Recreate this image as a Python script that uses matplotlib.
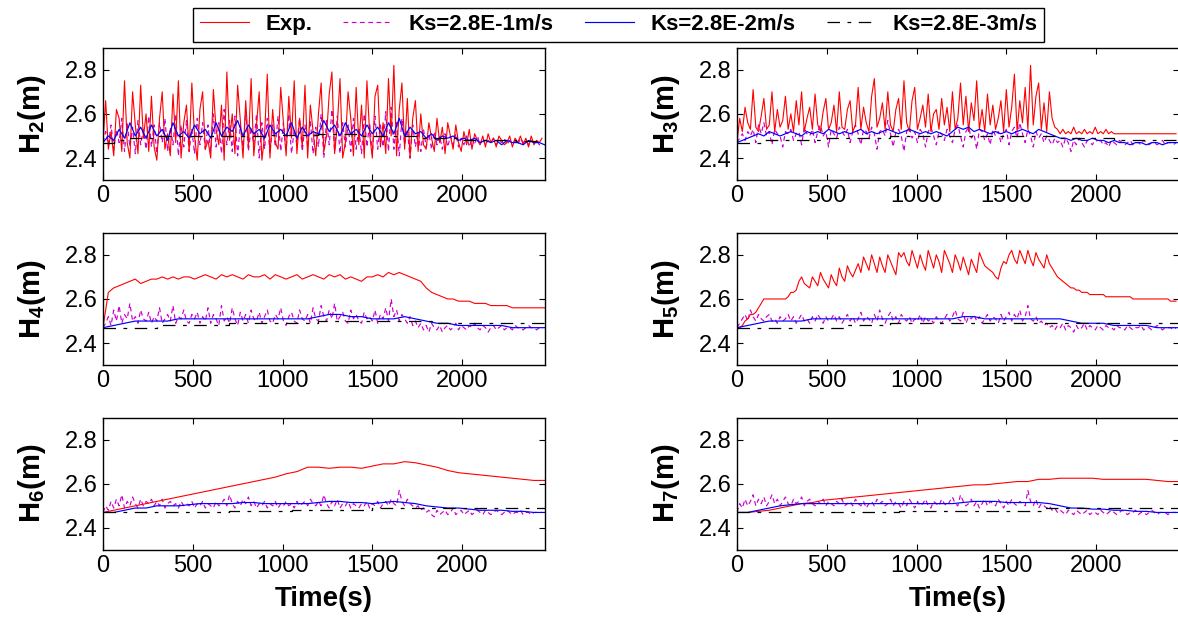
import numpy as np
import matplotlib
matplotlib.use("Agg")
import matplotlib.pyplot as plt

plt.rcParams["font.family"] = ["Liberation Sans", "DejaVu Sans"]
plt.rcParams["mathtext.fontset"] = "custom"
plt.rcParams["mathtext.rm"] = "Liberation Sans"
plt.rcParams["mathtext.bf"] = "Liberation Sans:bold"

# time grids (s)
t15 = np.arange(0, 2460, 15)
t30 = np.arange(0, 2461, 30)
t60 = np.arange(0, 2461, 60)

legend_labels = ["Exp.", "Ks=2.8E-1m/s", "Ks=2.8E-2m/s", "Ks=2.8E-3m/s"]

# ---------------- H2 ----------------
h2_exp = [
    2.47, 2.66, 2.44, 2.52, 2.41, 2.62, 2.58, 2.43, 2.75, 2.47, 2.40, 2.70, 2.55, 2.42, 2.73, 2.49, 2.60, 2.43, 2.68, 2.45,
    2.39, 2.58, 2.70, 2.44, 2.51, 2.41, 2.69, 2.47, 2.75, 2.40, 2.56, 2.64, 2.43, 2.74, 2.50, 2.39, 2.62, 2.70, 2.44, 2.48,
    2.40, 2.71, 2.53, 2.46, 2.64, 2.39, 2.79, 2.48, 2.60, 2.42, 2.73, 2.57, 2.40, 2.66, 2.45, 2.76, 2.41, 2.55, 2.70, 2.39,
    2.50, 2.78, 2.40, 2.62, 2.47, 2.44, 2.72, 2.56, 2.41, 2.68, 2.49, 2.75, 2.42, 2.58, 2.45, 2.73, 2.40, 2.64, 2.52, 2.41,
    2.60, 2.74, 2.43, 2.50, 2.69, 2.79, 2.42, 2.55, 2.76, 2.40, 2.47, 2.70, 2.58, 2.41, 2.72, 2.46, 2.64, 2.40, 2.75, 2.51,
    2.40, 2.68, 2.73, 2.45, 2.56, 2.42, 2.76, 2.50, 2.82, 2.41, 2.62, 2.74, 2.44, 2.67, 2.40, 2.58, 2.66, 2.43, 2.60, 2.46,
    2.44, 2.56, 2.49, 2.43, 2.58, 2.47, 2.54, 2.42, 2.56, 2.50, 2.44, 2.55, 2.47, 2.43, 2.52, 2.46, 2.53, 2.44, 2.51, 2.48,
    2.46, 2.50, 2.45, 2.51, 2.47, 2.49, 2.45, 2.50, 2.48, 2.46, 2.47, 2.50, 2.45, 2.49, 2.47, 2.50, 2.46, 2.49, 2.45, 2.50,
    2.46, 2.48, 2.47, 2.49,
]
h2_ks1 = [
    2.47, 2.52, 2.46, 2.55, 2.44, 2.53, 2.47, 2.58, 2.43, 2.56, 2.45, 2.54, 2.42, 2.57, 2.46, 2.53, 2.44, 2.59, 2.45, 2.55,
    2.42, 2.56, 2.47, 2.58, 2.43, 2.54, 2.46, 2.60, 2.41, 2.55, 2.45, 2.57, 2.43, 2.53, 2.42, 2.58, 2.46, 2.56, 2.44, 2.55,
    2.43, 2.60, 2.45, 2.56, 2.42, 2.62, 2.46, 2.57, 2.43, 2.59, 2.41, 2.55, 2.45, 2.61, 2.43, 2.54, 2.46, 2.60, 2.40, 2.56,
    2.44, 2.58, 2.42, 2.55, 2.45, 2.59, 2.43, 2.56, 2.44, 2.60, 2.42, 2.53, 2.46, 2.58, 2.43, 2.55, 2.45, 2.57, 2.42, 2.54,
    2.45, 2.60, 2.40, 2.57, 2.46, 2.62, 2.43, 2.59, 2.42, 2.56, 2.45, 2.55, 2.43, 2.58, 2.44, 2.54, 2.42, 2.60, 2.45, 2.56,
    2.42, 2.59, 2.44, 2.55, 2.45, 2.61, 2.43, 2.63, 2.44, 2.57, 2.41, 2.58, 2.46, 2.53, 2.40, 2.55, 2.45, 2.52, 2.43, 2.53,
    2.45, 2.51, 2.44, 2.52, 2.46, 2.50, 2.44, 2.51, 2.45, 2.50, 2.46, 2.51, 2.45, 2.49, 2.46, 2.50, 2.45, 2.49, 2.46, 2.50,
    2.46, 2.49, 2.46, 2.48, 2.47, 2.49, 2.46, 2.48, 2.47, 2.49, 2.46, 2.48, 2.47, 2.48, 2.46, 2.49, 2.47, 2.48, 2.46, 2.48,
    2.47, 2.48, 2.46, 2.47,
]
h2_ks2 = [
    2.47, 2.50, 2.48, 2.53, 2.49, 2.56, 2.50, 2.54, 2.49, 2.55,
    2.50, 2.53, 2.48, 2.56, 2.50, 2.52, 2.49, 2.55, 2.51, 2.53,
    2.49, 2.56, 2.50, 2.54, 2.52, 2.57, 2.50, 2.55, 2.51, 2.53,
    2.49, 2.55, 2.51, 2.53, 2.50, 2.56, 2.49, 2.54, 2.50, 2.52,
    2.51, 2.57, 2.52, 2.55, 2.50, 2.56, 2.51, 2.53, 2.50, 2.55,
    2.51, 2.54, 2.50, 2.56, 2.51, 2.58, 2.50, 2.54, 2.51, 2.52,
    2.49, 2.51, 2.48, 2.50, 2.49, 2.50, 2.48, 2.49, 2.48, 2.49,
    2.47, 2.48, 2.47, 2.48, 2.46, 2.48, 2.47, 2.47, 2.46, 2.48, 2.47, 2.47, 2.46,
]
h2_ks3_t = [0, 60, 150, 300, 600, 900, 1200, 1450, 1750, 2000, 2300, 2460]
h2_ks3 = [2.47, 2.48, 2.49, 2.50, 2.50, 2.505, 2.51, 2.50, 2.49, 2.48, 2.475, 2.475]

# ---------------- H3 ----------------
h3_exp = [
    2.47, 2.58, 2.52, 2.63, 2.56, 2.53, 2.71, 2.54, 2.52, 2.59, 2.67, 2.53, 2.55, 2.70, 2.52, 2.62, 2.54, 2.57, 2.68, 2.53,
    2.60, 2.52, 2.66, 2.55, 2.70, 2.52, 2.58, 2.63, 2.53, 2.69, 2.55, 2.52, 2.61, 2.67, 2.53, 2.56, 2.64, 2.52, 2.70, 2.54,
    2.53, 2.62, 2.66, 2.52, 2.55, 2.72, 2.53, 2.63, 2.56, 2.52, 2.68, 2.76, 2.54, 2.58, 2.65, 2.53, 2.70, 2.55, 2.52, 2.62,
    2.67, 2.53, 2.75, 2.56, 2.52, 2.66, 2.72, 2.53, 2.58, 2.64, 2.54, 2.69, 2.52, 2.60, 2.62, 2.53, 2.67, 2.55, 2.63, 2.52,
    2.70, 2.53, 2.58, 2.74, 2.55, 2.68, 2.52, 2.65, 2.57, 2.75, 2.53, 2.62, 2.52, 2.69, 2.55, 2.64, 2.53, 2.58, 2.66, 2.52,
    2.71, 2.54, 2.63, 2.78, 2.52, 2.66, 2.56, 2.72, 2.53, 2.82, 2.55, 2.68, 2.74, 2.53, 2.65, 2.52, 2.70, 2.58, 2.54, 2.53,
    2.51, 2.53, 2.51, 2.52, 2.51, 2.54, 2.51, 2.52, 2.51, 2.53, 2.51, 2.52, 2.51, 2.54, 2.51, 2.52, 2.51, 2.53, 2.51, 2.52,
    2.51, 2.51, 2.51, 2.51, 2.51, 2.51, 2.51, 2.51, 2.51, 2.51, 2.51, 2.51, 2.51, 2.51, 2.51, 2.51, 2.51, 2.51, 2.51, 2.51,
    2.51, 2.51, 2.51, 2.51,
]
h3_ks1 = [
    2.47, 2.49, 2.51, 2.48, 2.52, 2.50, 2.53, 2.47, 2.55, 2.51, 2.56, 2.50, 2.52, 2.46, 2.53, 2.51, 2.50, 2.45, 2.52, 2.51,
    2.53, 2.48, 2.51, 2.52, 2.46, 2.54, 2.51, 2.50, 2.53, 2.47, 2.52, 2.55, 2.50, 2.52, 2.45, 2.53, 2.51, 2.49, 2.54, 2.52,
    2.50, 2.53, 2.47, 2.52, 2.55, 2.51, 2.46, 2.53, 2.52, 2.49, 2.54, 2.51, 2.44, 2.52, 2.53, 2.50, 2.57, 2.51, 2.45, 2.52,
    2.53, 2.50, 2.43, 2.52, 2.54, 2.49, 2.52, 2.47, 2.53, 2.51, 2.45, 2.52, 2.54, 2.50, 2.46, 2.52, 2.51, 2.48, 2.53, 2.50,
    2.47, 2.53, 2.55, 2.50, 2.45, 2.52, 2.54, 2.49, 2.51, 2.44, 2.53, 2.52, 2.48, 2.51, 2.46, 2.53, 2.50, 2.52, 2.47, 2.51,
    2.53, 2.46, 2.52, 2.54, 2.49, 2.56, 2.51, 2.47, 2.53, 2.50, 2.45, 2.52, 2.49, 2.51, 2.47, 2.50, 2.48, 2.46, 2.49, 2.47,
    2.48, 2.45, 2.49, 2.47, 2.43, 2.48, 2.46, 2.49, 2.47, 2.45, 2.48, 2.47, 2.46, 2.49, 2.47, 2.48, 2.46, 2.47, 2.45, 2.48,
    2.47, 2.46, 2.48, 2.47, 2.46, 2.47, 2.48, 2.46, 2.47, 2.47, 2.46, 2.48, 2.47, 2.46, 2.47, 2.47, 2.46, 2.47, 2.48, 2.46,
    2.47, 2.47, 2.46, 2.47,
]
h3_ks2 = [
    2.47, 2.48, 2.49, 2.50, 2.51, 2.50, 2.52, 2.51, 2.50, 2.51,
    2.52, 2.51, 2.50, 2.52, 2.51, 2.52, 2.51, 2.53, 2.52, 2.51,
    2.52, 2.51, 2.52, 2.53, 2.51, 2.52, 2.51, 2.52, 2.53, 2.52,
    2.51, 2.52, 2.53, 2.52, 2.51, 2.52, 2.51, 2.52, 2.51, 2.50,
    2.52, 2.54, 2.53, 2.54, 2.52, 2.53, 2.52, 2.51, 2.52, 2.51,
    2.52, 2.51, 2.52, 2.53, 2.52, 2.51, 2.53, 2.52, 2.51, 2.50,
    2.49, 2.49, 2.48, 2.49, 2.48, 2.48, 2.49, 2.48, 2.48, 2.47,
    2.48, 2.47, 2.47, 2.46, 2.47, 2.47, 2.46, 2.47, 2.47, 2.46, 2.47, 2.47, 2.47,
]
h3_ks3_t = [0, 150, 500, 850, 1800, 2100, 2460]
h3_ks3 = [2.47, 2.48, 2.49, 2.50, 2.49, 2.48, 2.48]

# ---------------- H4 ----------------
h4_exp = [
    2.47, 2.63, 2.65, 2.66, 2.67, 2.68, 2.69, 2.67, 2.68, 2.69,
    2.69, 2.70, 2.69, 2.70, 2.69, 2.70, 2.70, 2.69, 2.70, 2.71,
    2.70, 2.69, 2.71, 2.70, 2.71, 2.70, 2.69, 2.71, 2.70, 2.70,
    2.71, 2.69, 2.71, 2.70, 2.69, 2.70, 2.71, 2.69, 2.70, 2.71,
    2.70, 2.69, 2.71, 2.70, 2.71, 2.69, 2.70, 2.69, 2.68, 2.70,
    2.70, 2.71, 2.70, 2.72, 2.71, 2.72, 2.71, 2.70, 2.69, 2.68,
    2.65, 2.63, 2.62, 2.61, 2.60, 2.60, 2.59, 2.59, 2.59, 2.58,
    2.58, 2.58, 2.57, 2.57, 2.57, 2.57, 2.56, 2.56, 2.56, 2.56, 2.56, 2.56, 2.56,
]
h4_ks1 = [
    2.47, 2.49, 2.52, 2.48, 2.55, 2.50, 2.57, 2.49, 2.53, 2.51, 2.58, 2.50, 2.52, 2.49, 2.55, 2.51, 2.50, 2.54, 2.49, 2.52,
    2.50, 2.56, 2.49, 2.51, 2.53, 2.50, 2.57, 2.49, 2.52, 2.51, 2.55, 2.50, 2.49, 2.53, 2.51, 2.54, 2.49, 2.52, 2.50, 2.56,
    2.49, 2.53, 2.51, 2.48, 2.57, 2.50, 2.52, 2.49, 2.56, 2.51, 2.48, 2.54, 2.50, 2.53, 2.49, 2.55, 2.51, 2.50, 2.54, 2.49,
    2.52, 2.55, 2.50, 2.49, 2.53, 2.51, 2.56, 2.50, 2.48, 2.52, 2.54, 2.50, 2.49, 2.55, 2.51, 2.50, 2.53, 2.49, 2.56, 2.51,
    2.50, 2.57, 2.52, 2.50, 2.55, 2.51, 2.58, 2.50, 2.52, 2.54, 2.50, 2.49, 2.55, 2.51, 2.53, 2.50, 2.49, 2.54, 2.51, 2.52,
    2.50, 2.55, 2.49, 2.53, 2.51, 2.56, 2.50, 2.60, 2.52, 2.55, 2.50, 2.53, 2.51, 2.49, 2.52, 2.48, 2.50, 2.47, 2.49, 2.46,
    2.48, 2.45, 2.49, 2.47, 2.46, 2.48, 2.45, 2.47, 2.48, 2.46, 2.47, 2.49, 2.46, 2.48, 2.47, 2.46, 2.48, 2.47, 2.49, 2.47,
    2.46, 2.48, 2.47, 2.45, 2.47, 2.48, 2.46, 2.47, 2.48, 2.46, 2.47, 2.47, 2.46, 2.48, 2.47, 2.47, 2.46, 2.47, 2.48, 2.47,
    2.47, 2.46, 2.47, 2.47,
]
h4_ks2 = [
    2.47, 2.48, 2.49, 2.50, 2.50, 2.50, 2.50, 2.51, 2.51, 2.51,
    2.51, 2.51, 2.51, 2.51, 2.51, 2.51, 2.51, 2.51, 2.51, 2.51,
    2.52, 2.53, 2.53, 2.52, 2.52, 2.51, 2.51, 2.51, 2.52, 2.51,
    2.50, 2.49, 2.49, 2.48, 2.48, 2.48, 2.48, 2.48, 2.47, 2.47,
    2.47, 2.47,
]
h4_ks3_t = [0, 300, 700, 1200, 1850, 2460]
h4_ks3 = [2.47, 2.48, 2.49, 2.50, 2.49, 2.49]

# ---------------- H5 ----------------
h5_exp = [
    2.47, 2.47, 2.48, 2.50, 2.51, 2.53, 2.53, 2.54, 2.56, 2.58, 2.60, 2.60, 2.60, 2.60, 2.60, 2.60, 2.60, 2.60, 2.60, 2.61,
    2.63, 2.63, 2.64, 2.68, 2.70, 2.67, 2.66, 2.65, 2.70, 2.68, 2.66, 2.72, 2.69, 2.67, 2.65, 2.71, 2.68, 2.66, 2.74, 2.70,
    2.68, 2.75, 2.72, 2.70, 2.73, 2.76, 2.72, 2.79, 2.76, 2.73, 2.80, 2.76, 2.72, 2.79, 2.75, 2.72, 2.80, 2.77, 2.74, 2.71,
    2.81, 2.79, 2.81, 2.77, 2.75, 2.82, 2.78, 2.74, 2.80, 2.76, 2.73, 2.82, 2.78, 2.74, 2.80, 2.77, 2.72, 2.82, 2.79, 2.76,
    2.72, 2.80, 2.77, 2.73, 2.79, 2.75, 2.71, 2.78, 2.75, 2.72, 2.81, 2.78, 2.75, 2.74, 2.73, 2.72, 2.70, 2.69, 2.74, 2.77,
    2.76, 2.80, 2.82, 2.78, 2.76, 2.82, 2.79, 2.76, 2.82, 2.78, 2.75, 2.81, 2.78, 2.76, 2.74, 2.80, 2.76, 2.74, 2.72, 2.70,
    2.69, 2.68, 2.67, 2.66, 2.65, 2.65, 2.64, 2.64, 2.63, 2.63, 2.63, 2.62, 2.62, 2.62, 2.62, 2.62, 2.62, 2.61, 2.61, 2.61,
    2.61, 2.61, 2.61, 2.61, 2.61, 2.61, 2.61, 2.60, 2.60, 2.60, 2.60, 2.60, 2.60, 2.60, 2.60, 2.60, 2.60, 2.60, 2.60, 2.60,
    2.60, 2.59, 2.59, 2.59,
]
h5_ks1 = [
    2.47, 2.49, 2.51, 2.53, 2.50, 2.55, 2.52, 2.50, 2.53, 2.51, 2.50, 2.52, 2.53, 2.50, 2.51, 2.49, 2.52, 2.50, 2.51, 2.53,
    2.50, 2.52, 2.49, 2.51, 2.53, 2.50, 2.51, 2.49, 2.52, 2.50, 2.53, 2.51, 2.49, 2.52, 2.50, 2.51, 2.53, 2.50, 2.52, 2.49,
    2.51, 2.53, 2.50, 2.52, 2.49, 2.51, 2.54, 2.50, 2.52, 2.51, 2.49, 2.53, 2.50, 2.55, 2.51, 2.49, 2.52, 2.54, 2.50, 2.52,
    2.49, 2.53, 2.51, 2.50, 2.52, 2.49, 2.51, 2.50, 2.53, 2.49, 2.52, 2.50, 2.51, 2.49, 2.52, 2.50, 2.49, 2.51, 2.53, 2.50,
    2.52, 2.55, 2.51, 2.50, 2.54, 2.49, 2.52, 2.51, 2.53, 2.50, 2.52, 2.49, 2.51, 2.53, 2.50, 2.52, 2.51, 2.49, 2.53, 2.50,
    2.52, 2.54, 2.50, 2.53, 2.51, 2.55, 2.50, 2.52, 2.57, 2.51, 2.50, 2.52, 2.49, 2.50, 2.48, 2.49, 2.47, 2.48, 2.46, 2.48,
    2.47, 2.49, 2.46, 2.48, 2.47, 2.45, 2.48, 2.46, 2.47, 2.49, 2.46, 2.48, 2.47, 2.46, 2.48, 2.47, 2.46, 2.48, 2.47, 2.47,
    2.46, 2.48, 2.47, 2.47, 2.46, 2.48, 2.47, 2.46, 2.47, 2.47, 2.48, 2.46, 2.47, 2.47, 2.46, 2.47, 2.48, 2.47, 2.46, 2.47,
    2.47, 2.47, 2.46, 2.47,
]
h5_ks2 = [
    2.47, 2.48, 2.49, 2.50, 2.50, 2.50, 2.50, 2.51, 2.51, 2.51,
    2.51, 2.51, 2.51, 2.51, 2.51, 2.51, 2.51, 2.51, 2.51, 2.51,
    2.51, 2.52, 2.52, 2.51, 2.51, 2.51, 2.51, 2.51, 2.51, 2.51,
    2.51, 2.50, 2.49, 2.49, 2.49, 2.48, 2.48, 2.48, 2.48, 2.47,
    2.47, 2.47,
]
h5_ks3_t = [0, 600, 850, 1850, 2460]
h5_ks3 = [2.47, 2.48, 2.49, 2.49, 2.49]

# ---------------- H6 ----------------
h6_exp = [
    2.47, 2.48, 2.49, 2.50, 2.51, 2.52, 2.53, 2.54, 2.55, 2.56,
    2.57, 2.58, 2.59, 2.60, 2.61, 2.62, 2.63, 2.645, 2.655, 2.675,
    2.675, 2.67, 2.675, 2.675, 2.67, 2.68, 2.69, 2.69, 2.70, 2.695,
    2.685, 2.675, 2.66, 2.65, 2.645, 2.64, 2.635, 2.63, 2.625, 2.62,
    2.615, 2.615,
]
h6_ks1 = [
    2.47, 2.50, 2.48, 2.52, 2.49, 2.53, 2.50, 2.55, 2.49, 2.52, 2.50, 2.54, 2.51, 2.49, 2.53, 2.50, 2.52, 2.51, 2.53, 2.50,
    2.52, 2.50, 2.53, 2.49, 2.51, 2.52, 2.50, 2.51, 2.49, 2.52, 2.50, 2.51, 2.50, 2.52, 2.49, 2.51, 2.50, 2.52, 2.49, 2.51,
    2.50, 2.49, 2.52, 2.50, 2.51, 2.53, 2.50, 2.55, 2.51, 2.49, 2.52, 2.50, 2.53, 2.51, 2.54, 2.50, 2.52, 2.49, 2.51, 2.50,
    2.52, 2.49, 2.51, 2.50, 2.52, 2.49, 2.51, 2.50, 2.52, 2.50, 2.51, 2.49, 2.52, 2.50, 2.51, 2.52, 2.50, 2.53, 2.51, 2.50,
    2.52, 2.50, 2.55, 2.51, 2.49, 2.52, 2.50, 2.53, 2.49, 2.51, 2.50, 2.52, 2.49, 2.51, 2.50, 2.49, 2.51, 2.50, 2.52, 2.49,
    2.51, 2.50, 2.52, 2.49, 2.51, 2.52, 2.50, 2.53, 2.51, 2.50, 2.57, 2.52, 2.50, 2.53, 2.51, 2.50, 2.49, 2.50, 2.48, 2.49,
    2.47, 2.48, 2.46, 2.45, 2.48, 2.46, 2.47, 2.48, 2.46, 2.47, 2.49, 2.46, 2.47, 2.48, 2.46, 2.47, 2.48, 2.46, 2.47, 2.48,
    2.47, 2.46, 2.48, 2.47, 2.46, 2.47, 2.48, 2.47, 2.46, 2.47, 2.48, 2.47, 2.46, 2.47, 2.47, 2.48, 2.46, 2.47, 2.47, 2.46,
    2.47, 2.47, 2.47, 2.47,
]
h6_ks2 = [
    2.47, 2.47, 2.48, 2.49, 2.49, 2.50, 2.50, 2.50, 2.505, 2.51,
    2.51, 2.51, 2.51, 2.515, 2.515, 2.51, 2.51, 2.51, 2.51, 2.51,
    2.515, 2.52, 2.52, 2.515, 2.515, 2.51, 2.515, 2.52, 2.515, 2.51,
    2.50, 2.495, 2.49, 2.49, 2.485, 2.48, 2.48, 2.48, 2.475, 2.475,
    2.47, 2.47,
]
h6_ks3_t = [0, 700, 1050, 1500, 2460]
h6_ks3 = [2.47, 2.475, 2.48, 2.49, 2.49]

# ---------------- H7 ----------------
h7_exp = [
    2.47, 2.47, 2.475, 2.48, 2.49, 2.50, 2.51, 2.515, 2.525, 2.53,
    2.535, 2.54, 2.545, 2.55, 2.555, 2.56, 2.565, 2.57, 2.575, 2.58,
    2.585, 2.59, 2.595, 2.595, 2.60, 2.605, 2.61, 2.61, 2.62, 2.62,
    2.625, 2.625, 2.625, 2.625, 2.62, 2.62, 2.62, 2.62, 2.62, 2.615,
    2.61, 2.61,
]
h7_ks1 = [
    2.47, 2.51, 2.49, 2.53, 2.50, 2.52, 2.55, 2.50, 2.53, 2.51, 2.54, 2.50, 2.52, 2.55, 2.51, 2.53, 2.50, 2.52, 2.54, 2.51,
    2.50, 2.53, 2.51, 2.52, 2.54, 2.50, 2.52, 2.53, 2.51, 2.50, 2.52, 2.51, 2.53, 2.50, 2.52, 2.51, 2.50, 2.52, 2.51, 2.53,
    2.50, 2.51, 2.52, 2.50, 2.53, 2.51, 2.50, 2.52, 2.49, 2.51, 2.52, 2.50, 2.53, 2.51, 2.52, 2.50, 2.51, 2.53, 2.50, 2.52,
    2.51, 2.49, 2.52, 2.50, 2.53, 2.51, 2.49, 2.52, 2.50, 2.51, 2.53, 2.50, 2.49, 2.52, 2.51, 2.50, 2.53, 2.51, 2.50, 2.52,
    2.54, 2.51, 2.50, 2.55, 2.52, 2.50, 2.51, 2.53, 2.50, 2.52, 2.49, 2.51, 2.53, 2.50, 2.52, 2.51, 2.50, 2.53, 2.51, 2.49,
    2.52, 2.50, 2.53, 2.51, 2.50, 2.52, 2.51, 2.50, 2.57, 2.52, 2.50, 2.53, 2.49, 2.51, 2.50, 2.49, 2.50, 2.48, 2.49, 2.47,
    2.48, 2.47, 2.46, 2.48, 2.47, 2.46, 2.48, 2.47, 2.46, 2.47, 2.48, 2.46, 2.47, 2.47, 2.46, 2.48, 2.47, 2.46, 2.47, 2.48,
    2.47, 2.46, 2.47, 2.48, 2.47, 2.46, 2.47, 2.47, 2.48, 2.46, 2.47, 2.47, 2.46, 2.47, 2.48, 2.47, 2.46, 2.47, 2.47, 2.47,
    2.46, 2.47, 2.47, 2.47,
]
h7_ks2 = [
    2.47, 2.47, 2.48, 2.49, 2.50, 2.505, 2.51, 2.51, 2.51, 2.51,
    2.51, 2.51, 2.51, 2.51, 2.51, 2.51, 2.51, 2.51, 2.51, 2.51,
    2.51, 2.515, 2.52, 2.52, 2.52, 2.515, 2.515, 2.515, 2.515, 2.51,
    2.50, 2.49, 2.49, 2.485, 2.485, 2.48, 2.48, 2.475, 2.475, 2.47,
    2.47, 2.47,
]
h7_ks3_t = [0, 900, 1700, 2460]
h7_ks3 = [2.47, 2.475, 2.49, 2.49]

panels = [
    ("2", t15, h2_exp, t15, h2_ks1, t30, h2_ks2, h2_ks3_t, h2_ks3),
    ("3", t15, h3_exp, t15, h3_ks1, t30, h3_ks2, h3_ks3_t, h3_ks3),
    ("4", t30, h4_exp, t15, h4_ks1, t60, h4_ks2, h4_ks3_t, h4_ks3),
    ("5", t15, h5_exp, t15, h5_ks1, t60, h5_ks2, h5_ks3_t, h5_ks3),
    ("6", t60, h6_exp, t15, h6_ks1, t60, h6_ks2, h6_ks3_t, h6_ks3),
    ("7", t60, h7_exp, t15, h7_ks1, t60, h7_ks2, h7_ks3_t, h7_ks3),
]

fig = plt.figure(figsize=(11.78, 6.19), dpi=100)

lefts = [0.0874, 0.6256]
bottoms = [0.709, 0.410, 0.1115]
w, h = 0.375, 0.214

handles = None
for i, (num, te, ye, t1, y1, t2, y2, t3, y3) in enumerate(panels):
    row, col = i // 2, i % 2
    ax = fig.add_axes([lefts[col], bottoms[row], w, h])
    # draw order: magenta under red, blue and black on top
    l1, = ax.plot(t1, y1, color="#cc00cc", lw=0.85, ls=(0, (4, 3)))
    l0, = ax.plot(te, ye, color="#ff0000", lw=0.8)
    l2, = ax.plot(t2, y2, color="#0000ff", lw=0.85)
    l3, = ax.plot(t3, y3, color="black", lw=0.9, ls=(0, (10, 6, 3, 6)),
                  drawstyle="steps-post")
    handles = [l0, l1, l2, l3]

    ax.set_xlim(0, 2460)
    ax.set_ylim(2.3, 2.9)
    ax.set_xticks([0, 500, 1000, 1500, 2000])
    ax.set_yticks([2.4, 2.6, 2.8])
    ax.tick_params(direction="in", top=True, right=True, labelsize=17,
                   length=4, width=0.8)
    for s in ax.spines.values():
        s.set_linewidth(1.0)
    ax.set_ylabel(r"$\mathbf{H_%s(m)}$" % num, fontsize=21)
    ax.yaxis.set_label_coords(-0.125, 0.5)
    if row == 2:
        ax.set_xlabel("Time(s)", fontsize=20, fontweight="bold")
        ax.xaxis.set_label_coords(0.5, -0.27)

leg = fig.legend(handles, legend_labels, loc="center", ncol=4,
                 bbox_to_anchor=(0.525, 0.96), frameon=True, fancybox=False,
                 edgecolor="black", framealpha=1, handlelength=2.2,
                 columnspacing=1.4, handletextpad=0.75, borderpad=0.3,
                 borderaxespad=0.3, prop={"weight": "bold", "size": 16})
leg.get_frame().set_linewidth(1.0)

fig.savefig("out.png", dpi=100)
